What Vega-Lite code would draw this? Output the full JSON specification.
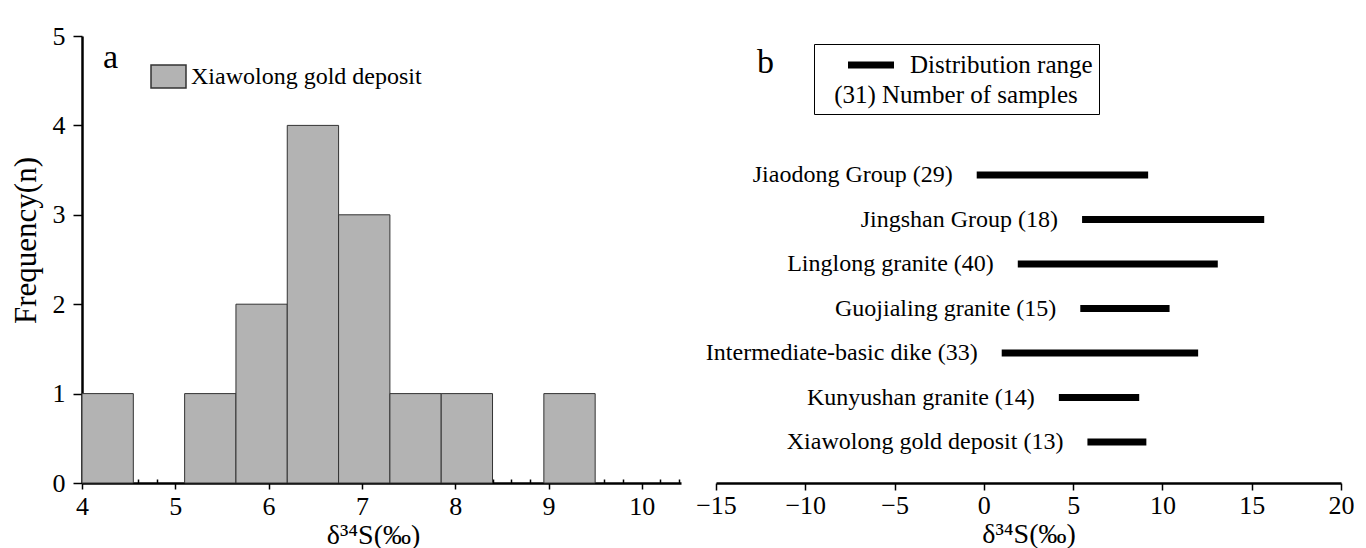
{
  "$schema": "https://vega.github.io/schema/vega-lite/v6.json",
  "padding": {"left": 10, "top": 23, "right": 0, "bottom": 0},
  "background": "white",
  "spacing": 35,
  "bounds": "flush",
  "config": {
    "font": "Liberation Serif",
    "view": {"stroke": null},
    "axis": {
      "labelFont": "Liberation Serif",
      "titleFont": "Liberation Serif",
      "labelColor": "black",
      "titleColor": "black",
      "titleFontWeight": "normal",
      "labelFontSize": 26,
      "titleFontSize": 28,
      "domainColor": "black",
      "domainWidth": 2.5,
      "tickColor": "black",
      "tickWidth": 1.5,
      "grid": false,
      "labelFlush": false,
      "labelOverlap": false
    },
    "legend": {
      "labelFont": "Liberation Serif",
      "titleFont": "Liberation Serif",
      "labelColor": "black",
      "titleColor": "black"
    }
  },
  "resolve": {
    "scale": {"color": "independent", "x": "independent", "y": "independent"},
    "legend": {"color": "independent"}
  },
  "hconcat": [
    {
      "width": 599,
      "height": 447,
      "title": {"text": "a", "anchor": "start", "frame": "group", "orient": "none", "dx": 21, "dy": 32, "baseline": "alphabetic", "fontSize": 34, "fontWeight": "normal", "font": "Liberation Serif", "color": "black"},
      "data": {
        "values": [
          {"bin_start": 4.0, "bin_end": 4.55, "count": 1},
          {"bin_start": 5.1, "bin_end": 5.65, "count": 1},
          {"bin_start": 5.65, "bin_end": 6.2, "count": 2},
          {"bin_start": 6.2, "bin_end": 6.75, "count": 4},
          {"bin_start": 6.75, "bin_end": 7.3, "count": 3},
          {"bin_start": 7.3, "bin_end": 7.85, "count": 1},
          {"bin_start": 7.85, "bin_end": 8.4, "count": 1},
          {"bin_start": 8.95, "bin_end": 9.5, "count": 1}
        ]
      },
      "resolve": {"axis": {"x": "independent"}},
      "layer": [
        {
          "mark": {"type": "bar", "stroke": "#333333", "strokeWidth": 1},
          "encoding": {
            "x": {
              "field": "bin_start", "type": "quantitative",
              "scale": {"domain": [4, 10.42], "nice": false, "zero": false},
              "axis": {"values": [4, 5, 6, 7, 8, 9, 10], "title": "δ³⁴S(‰)", "titleX": 291, "tickSize": 6, "labelPadding": 4, "titlePadding": 2}
            },
            "x2": {"field": "bin_end"},
            "y": {
              "field": "count", "type": "quantitative",
              "scale": {"domain": [0, 5], "nice": false},
              "axis": {"values": [0, 1, 2, 3, 4, 5], "title": "Frequency(n)", "titleFontSize": 31, "titleY": 204, "tickSize": 9, "labelPadding": 8, "titlePadding": 10}
            },
            "y2": {"datum": 0},
            "color": {
              "datum": "Xiawolong gold deposit", "type": "nominal",
              "scale": {"range": ["#b3b3b3"]},
              "legend": {
                "orient": "none", "legendX": 68, "legendY": 22, "title": null, "padding": 0,
                "symbolType": "M-1,-0.657L1,-0.657L1,0.657L-1,0.657Z", "symbolSize": 1225,
                "symbolStrokeColor": "#333333", "symbolStrokeWidth": 1.5,
                "labelOffset": 4, "labelFontSize": 24, "labelLimit": 400
              }
            }
          }
        },
        {
          "mark": {"type": "rule", "opacity": 0},
          "encoding": {
            "x": {
              "field": "bin_start", "type": "quantitative",
              "axis": {
                "orient": "bottom", "title": null, "labels": false, "domain": false,
                "tickSize": -4, "tickWidth": 1.5,
                "values": [4.2, 4.4, 4.6, 4.8, 5.2, 5.4, 5.6, 5.8, 6.2, 6.4, 6.6, 6.8, 7.2, 7.4, 7.6, 7.8, 8.2, 8.4, 8.6, 8.8, 9.2, 9.4, 9.6, 9.8, 10.2, 10.4]
              }
            }
          }
        }
      ]
    },
    {
      "width": 625,
      "height": 447,
      "title": {"text": "b", "anchor": "start", "frame": "group", "orient": "none", "dx": 41, "dy": 37, "baseline": "alphabetic", "fontSize": 34, "fontWeight": "normal", "font": "Liberation Serif", "color": "black"},
      "data": {
        "values": [
          {"group": "Jiaodong Group (29)", "min": -0.4, "max": 9.2},
          {"group": "Jingshan Group (18)", "min": 5.5, "max": 15.7},
          {"group": "Linglong granite (40)", "min": 1.9, "max": 13.1},
          {"group": "Guojialing granite (15)", "min": 5.4, "max": 10.4},
          {"group": "Intermediate-basic dike (33)", "min": 1.0, "max": 12.0},
          {"group": "Kunyushan granite (14)", "min": 4.2, "max": 8.7},
          {"group": "Xiawolong gold deposit (13)", "min": 5.8, "max": 9.1}
        ]
      },
      "layer": [
        {
          "mark": {"type": "rule", "strokeWidth": 7},
          "encoding": {
            "x": {
              "field": "min", "type": "quantitative",
              "scale": {"domain": [-15, 20], "nice": false, "zero": false},
              "axis": {"values": [-15, -10, -5, 0, 5, 10, 15, 20], "title": "δ³⁴S(‰)", "tickSize": 7, "labelPadding": 2, "titlePadding": 2}
            },
            "x2": {"field": "max"},
            "y": {"field": "group", "type": "nominal", "sort": null, "scale": {"type": "point", "range": [139, 406], "padding": 0}, "axis": null},
            "color": {
              "datum": "Distribution range", "type": "nominal",
              "scale": {"range": ["black"]},
              "legend": {
                "orient": "none", "legendX": 98, "legendY": 8,
                "title": "(31) Number of samples", "titleOrient": "bottom", "titleAnchor": "middle",
                "titleFontSize": 25, "titleFontWeight": "normal", "titlePadding": 4, "titleLimit": 400,
                "strokeColor": "black", "padding": 6,
                "symbolType": "M-2,0L2,0", "symbolSize": 529, "symbolStrokeWidth": 7, "symbolOffset": 36,
                "labelOffset": 24, "labelFontSize": 25, "labelLimit": 400
              }
            }
          }
        },
        {
          "mark": {"type": "text", "align": "right", "baseline": "middle", "dx": -24, "fontSize": 24, "font": "Liberation Serif", "color": "black"},
          "encoding": {
            "x": {"field": "min", "type": "quantitative"},
            "y": {"field": "group", "type": "nominal", "sort": null},
            "text": {"field": "group", "type": "nominal"}
          }
        }
      ]
    }
  ]
}
